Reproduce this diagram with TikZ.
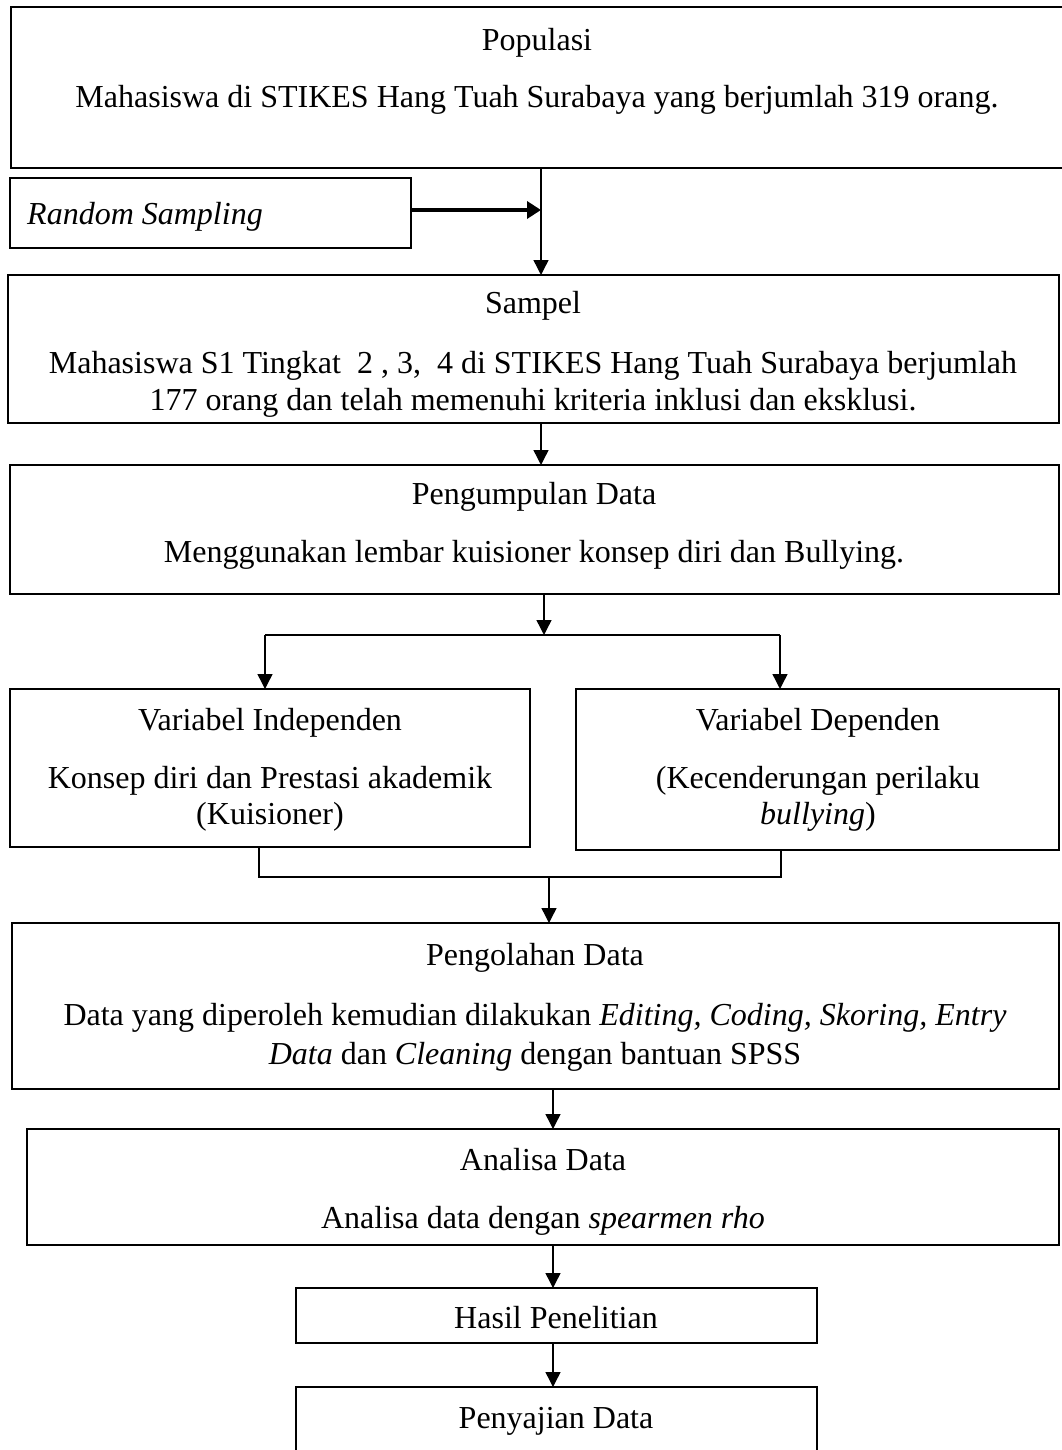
\documentclass[tikz,border=0pt]{standalone}
\usepackage{fontspec}
\setmainfont{Liberation Serif}
\usetikzlibrary{arrows.meta}
\begin{document}
\begin{tikzpicture}[x=1pt,y=-1pt,
  box/.style={draw,line width=2pt,inner sep=0pt,outer sep=0pt},
  txt/.style={anchor=base,inner sep=0pt,font=\fontsize{32}{38}\selectfont},
  conn/.style={line width=1.4pt},
  arr/.style={conn,-{Triangle[length=15pt,width=15pt]}},
  thickarr/.style={line width=4pt,-{Triangle[length=14pt,width=17pt]}}]
\useasboundingbox (0,0) rectangle (1061,1450);
% boxes
\node[box,minimum width=1054pt,minimum height=161pt] (pop) at (538,87.5) {};
\node[box,minimum width=401pt,minimum height=70pt] (rs) at (210.5,213) {};
\node[box,minimum width=1051pt,minimum height=148pt] (samp) at (533.5,349) {};
\node[box,minimum width=1049pt,minimum height=129pt] (peng) at (534.5,529.5) {};
\node[box,minimum width=520pt,minimum height=158pt] (indep) at (270,768) {};
\node[box,minimum width=483pt,minimum height=161pt] (dep) at (817.5,769.5) {};
\node[box,minimum width=1047pt,minimum height=166pt] (olah) at (535.5,1006) {};
\node[box,minimum width=1032pt,minimum height=116pt] (anal) at (543,1187) {};
\node[box,minimum width=521pt,minimum height=55pt] (hasil) at (556.5,1315.5) {};
\node[box,minimum width=521pt,minimum height=83pt] (saji) at (556.5,1428.5) {};
% texts
\node[txt] (t1) at (537,51) {Populasi};
\node[txt] (t2) at (537,108) {Mahasiswa di STIKES Hang Tuah Surabaya yang berjumlah 319 orang.};
\node[txt,anchor=base west] (t3) at (27,224) {\itshape Random Sampling};
\node[txt] (t4) at (533,313) {Sampel};
\node[txt] (t5) at (533,373) {Mahasiswa S1 Tingkat\ \ 2 , 3,\ \ 4 di STIKES Hang Tuah Surabaya berjumlah};
\node[txt] (t6) at (533,410) {177 orang dan telah memenuhi kriteria inklusi dan eksklusi.};
\node[txt] (t7) at (534,504) {Pengumpulan Data};
\node[txt] (t8) at (534,562) {Menggunakan lembar kuisioner konsep diri dan Bullying.};
\node[txt] (t9) at (270,730) {Variabel Independen};
\node[txt] (t10) at (270,788) {Konsep diri dan Prestasi akademik};
\node[txt] (t11) at (270,824) {(Kuisioner)};
\node[txt] (t12) at (818,730) {Variabel Dependen};
\node[txt] (t13) at (818,788) {(Kecenderungan perilaku};
\node[txt] (t14) at (818,824) {\textit{bullying})};
\node[txt] (t15) at (535,965) {Pengolahan Data};
\node[txt] (t16) at (535,1025) {Data yang diperoleh kemudian dilakukan \textit{Editing, Coding, Skoring, Entry}};
\node[txt] (t17) at (535,1064) {\textit{Data} dan \textit{Cleaning} dengan bantuan SPSS};
\node[txt] (t18) at (543,1170) {Analisa Data};
\node[txt] (t19) at (543,1228) {Analisa data dengan \textit{spearmen rho}};
\node[txt] (t20) at (556,1328) {Hasil Penelitian};
\node[txt] (t21) at (556,1428) {Penyajian Data};
% coordinates for connector columns
\coordinate (cA) at (541,0);
\coordinate (cB) at (544,0);
\coordinate (cL) at (265,635);
\coordinate (cR) at (780,635);
\coordinate (jL) at (259,877);
\coordinate (jR) at (781,877);
\coordinate (cC) at (549,877);
\coordinate (cD) at (553,0);
% connectors
\draw[arr] (pop.south -| cA) -- (samp.north -| cA);
\draw[thickarr] (rs.east |- 0,210) -- (cA |- 0,210);
\draw[arr] (samp.south -| cA) -- (peng.north -| cA);
\draw[arr] (peng.south -| cB) -- (cB |- cL);
\draw[line width=2.4pt] (cL) -- (cR);
\draw[arr] (cL) -- (indep.north -| cL);
\draw[arr] (cR) -- (dep.north -| cR);
\draw[line width=2pt] (indep.south -| jL) -- (jL) -- (jR) -- (dep.south -| jR);
\draw[arr] (cC) -- (olah.north -| cC);
\draw[arr] (olah.south -| cD) -- (anal.north -| cD);
\draw[arr] (anal.south -| cD) -- (hasil.north -| cD);
\draw[arr] (hasil.south -| cD) -- (saji.north -| cD);
\end{tikzpicture}
\end{document}
